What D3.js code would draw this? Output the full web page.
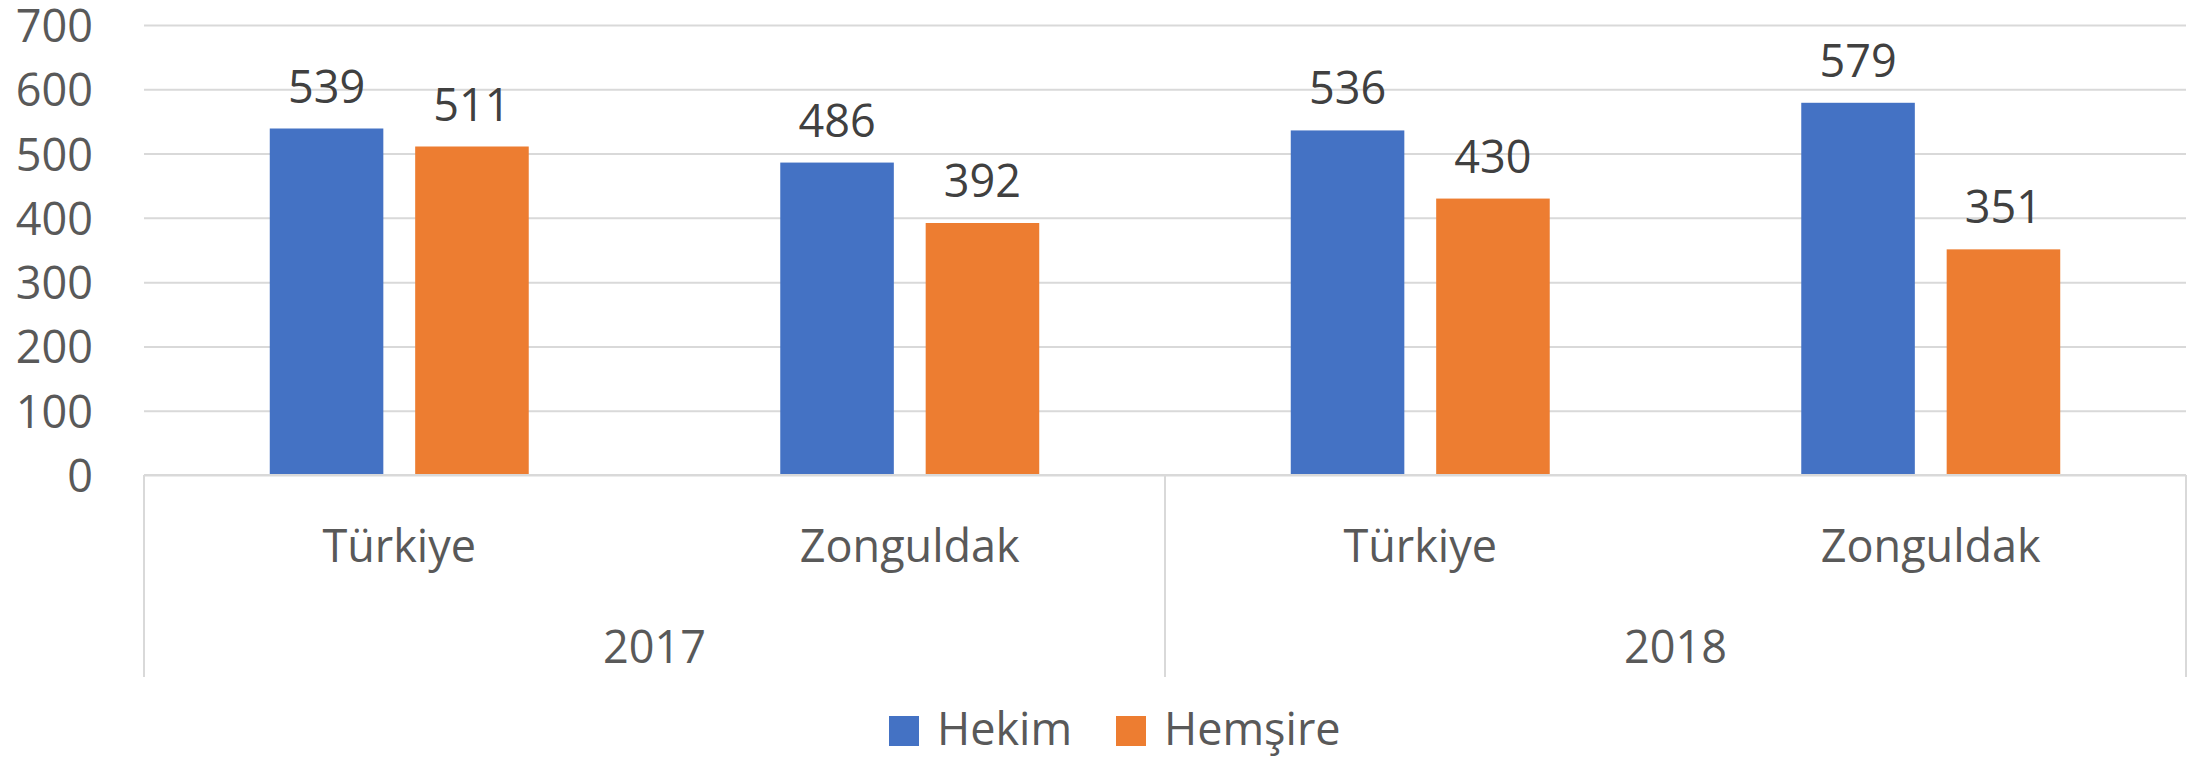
<!DOCTYPE html>
<html>
<head>
<meta charset="utf-8">
<script src="https://cdn.jsdelivr.net/npm/d3@7"></script>
<style>
  html, body { margin: 0; padding: 0; background: #ffffff; }
  svg { display: block; }
  text { font-family: "Open Sans", "Liberation Sans", sans-serif; }
</style>
</head>
<body>
<svg id="chart" width="2208" height="757"></svg>
<script>
// ---- Data ----
const categories = ["Türkiye", "Zonguldak", "Türkiye", "Zonguldak"];
const years = ["2017", "2018"];
const seriesNames = ["Hekim", "Hemşire"];
const hekim = [539, 486, 536, 579];
const hemsire = [511, 392, 430, 351];
const yTicks = [0, 100, 200, 300, 400, 500, 600, 700];
const colors = ["#4472C4", "#ED7D31"];

const seriesValues = [hekim, hemsire];

// ---- Layout ----
const svg = d3.select("#chart");
const plotLeft = 144, plotRight = 2186, plotTop = 25, plotBottom = 475, axisBottom = 677;
const fontSize = 45;

const y = d3.scaleLinear().domain([0, 700]).range([plotBottom, plotTop]);
const x0 = d3.scaleBand()
  .domain(categories.map((c, i) => i))
  .range([plotLeft, plotRight])
  .paddingInner(0.4927)
  .paddingOuter(0.24635);
const x1 = d3.scaleBand()
  .domain(seriesNames)
  .range([0, x0.bandwidth()])
  .paddingInner(0.219)
  .paddingOuter(0);

// Gridlines + y labels
const yAxis = d3.axisLeft(y)
  .tickValues(yTicks)
  .tickSize(-(plotRight - plotLeft))
  .tickPadding(51)
  .tickFormat(d3.format("d"));
const gy = svg.append("g").attr("transform", `translate(${plotLeft},0)`).call(yAxis);
gy.select(".domain").remove();
gy.selectAll(".tick line").attr("stroke", "#D9D9D9").attr("stroke-width", 2);
gy.selectAll(".tick text")
  .attr("fill", "#595959")
  .attr("font-size", fontSize)
  .attr("dy", "16.5")
  .style("font-family", '"Open Sans", "Liberation Sans", sans-serif');

// Bars
const groups = svg.append("g").selectAll("g")
  .data(categories.map((c, i) => i))
  .join("g")
  .attr("transform", i => `translate(${x0(i)},0)`);

groups.selectAll("rect")
  .data(i => seriesNames.map((s, k) => ({ s, k, v: seriesValues[k][i] })))
  .join("rect")
  .attr("x", d => x1(d.s))
  .attr("y", d => y(d.v))
  .attr("width", x1.bandwidth())
  .attr("height", d => y(0) - y(d.v))
  .attr("fill", d => colors[d.k]);

groups.selectAll("text.val")
  .data(i => seriesNames.map((s, k) => ({ s, k, v: seriesValues[k][i] })))
  .join("text")
  .attr("class", "val")
  .attr("x", d => x1(d.s) + x1.bandwidth() / 2)
  .attr("y", d => y(d.v) - 26)
  .attr("text-anchor", "middle")
  .attr("font-size", fontSize)
  .attr("fill", "#404040")
  .text(d => d.v);

// Horizontal axis line
svg.append("line")
  .attr("x1", plotLeft).attr("x2", plotRight)
  .attr("y1", y(0)).attr("y2", y(0))
  .attr("stroke", "#D9D9D9").attr("stroke-width", 2);

// Group separators (vertical lines)
const step = x0.step();
const sepX = [plotLeft, plotLeft + 2 * step, plotRight];
svg.append("g").selectAll("line")
  .data(sepX)
  .join("line")
  .attr("x1", d => d).attr("x2", d => d)
  .attr("y1", y(0)).attr("y2", axisBottom)
  .attr("stroke", "#D9D9D9").attr("stroke-width", 2);

// Category labels
svg.append("g").selectAll("text")
  .data(categories.map((c, i) => ({ c, i })))
  .join("text")
  .attr("x", d => x0(d.i) + x0.bandwidth() / 2)
  .attr("y", 562)
  .attr("text-anchor", "middle")
  .attr("font-size", fontSize)
  .attr("fill", "#595959")
  .text(d => d.c);

// Year labels
svg.append("g").selectAll("text")
  .data(years.map((yv, j) => ({ yv, j })))
  .join("text")
  .attr("x", d => plotLeft + (2 * d.j + 1) * step)
  .attr("y", 663)
  .attr("text-anchor", "middle")
  .attr("font-size", fontSize)
  .attr("fill", "#595959")
  .text(d => d.yv);

// Legend
const legendX = [889, 1116];
const leg = svg.append("g").selectAll("g")
  .data(seriesNames.map((s, k) => ({ s, k })))
  .join("g")
  .attr("transform", d => `translate(${legendX[d.k]},716)`);
leg.append("rect")
  .attr("width", 30).attr("height", 30)
  .attr("fill", d => colors[d.k]);
leg.append("text")
  .attr("x", 48).attr("y", 29)
  .attr("font-size", fontSize)
  .attr("fill", "#595959")
  .text(d => d.s);
</script>
</body>
</html>
